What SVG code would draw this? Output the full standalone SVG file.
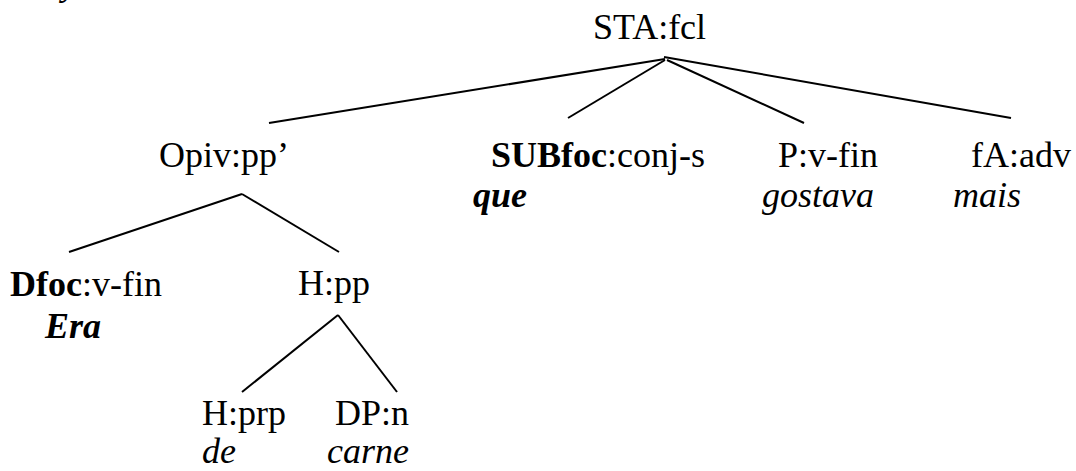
<svg xmlns="http://www.w3.org/2000/svg" width="1076" height="471" viewBox="0 0 1076 471">
<style>
text{font-family:"Liberation Serif","Times New Roman",serif;font-size:36px;fill:#000}
.b{font-weight:bold}
.i{font-style:italic}
.bi{font-weight:bold;font-style:italic}
line{stroke:#000;stroke-width:2;stroke-linecap:butt}
</style>
<rect width="1076" height="471" fill="#fff"/>
<text class="i" x="62" y="-5">y</text>
<g id="connectors">
<line x1="665" y1="59" x2="269" y2="123"/>
<line x1="665" y1="60" x2="568" y2="118"/>
<line x1="667" y1="60" x2="804" y2="123"/>
<line x1="664" y1="57" x2="1011" y2="118"/>
<line x1="242" y1="194" x2="69" y2="252"/>
<line x1="242" y1="194" x2="339" y2="252"/>
<line x1="338" y1="315" x2="242" y2="392"/>
<line x1="338" y1="315" x2="397" y2="392"/>
</g>
<g id="n-sta"><text x="593" y="39">STA:fcl</text></g>
<g id="n-opiv"><text x="159" y="167">Opiv:pp’</text></g>
<g id="n-subfoc"><text x="491" y="167"><tspan class="b">SUBfoc</tspan>:conj-s</text><text class="bi" x="473" y="207">que</text></g>
<g id="n-p"><text x="778" y="167">P:v-fin</text><text class="i" x="762" y="207">gostava</text></g>
<g id="n-fa"><text x="971" y="167">fA:adv</text><text class="i" x="953" y="207">mais</text></g>
<g id="n-dfoc"><text x="10" y="296"><tspan class="b">Dfoc</tspan>:v-fin</text><text class="bi" x="45" y="338">Era</text></g>
<g id="n-hpp"><text x="298" y="295">H:pp</text></g>
<g id="n-hprp"><text x="202" y="425">H:prp</text><text class="i" x="202" y="463">de</text></g>
<g id="n-dpn"><text x="335" y="425">DP:n</text><text class="i" x="327" y="463">carne</text></g>
</svg>
